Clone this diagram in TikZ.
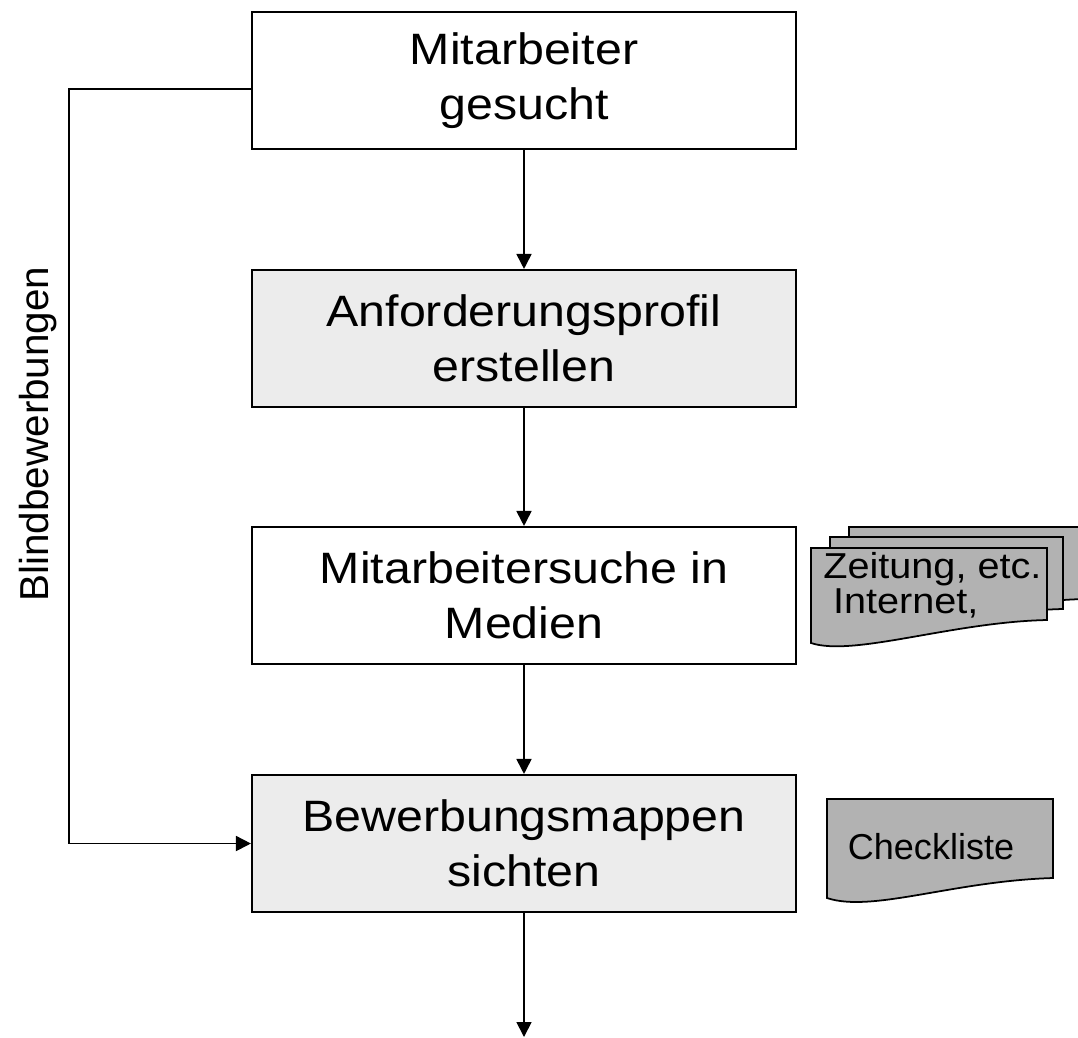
\documentclass[tikz,border=0pt]{standalone}
\usepackage{fontspec}
\setmainfont{Liberation Sans}
\newfontfamily\breit{Liberation Sans}[FakeStretch=1.1]
\usepackage{tikz}
\usetikzlibrary{arrows.meta}

\tikzset{
  schritt/.style={draw,line width=1.2pt,minimum width=10.88cm,minimum height=2.74cm,
    align=center,inner sep=0pt,font=\breit\fontsize{25}{31}\selectfont},
  grau/.style={fill=gray!15},
  pfeil/.style={line width=1pt,-{Triangle[length=3mm,width=3mm]}},
  blatt/.style={draw,line width=1pt,fill=gray!60},
  klein/.style={inner sep=0pt,font=\fontsize{20.5}{20}\selectfont}
}

\begin{document}
\begin{tikzpicture}
\useasboundingbox (0,0) rectangle (21.56,-20.74);
\clip (0,0) rectangle (21.56,-20.74);
\node[schritt] (b1) at (10.48,-1.61) {Mitarbeiter\\gesucht};
\node[schritt,grau] (b2) at (10.48,-6.77) {Anforderungsprofil\\erstellen};
\node[schritt] (b3) at (10.48,-11.91) {Mitarbeitersuche in\\Medien};
\node[schritt,grau] (b4) at (10.48,-16.87) {Bewerbungsmappen\\sichten};
\coordinate (ende) at (10.48,-20.74);
\draw[pfeil] (b1) -- (b2);
\draw[pfeil] (b2) -- (b3);
\draw[pfeil] (b3) -- (b4);
\draw[pfeil] (b4) -- (ende);
% Blindbewerbungen
\draw[pfeil] ([yshift=-1.7mm]b1.west) -- ++(-3.64,0) |- (b4.west);
\node[rotate=90,klein,font=\fontsize{23}{24}\selectfont] (blind) at (0.77,-8.68) {Blindbewerbungen};
% Dokumente
\draw[blatt] (16.98,-10.54) -- ++(4.72,0) -- ++(0,-1.44) .. controls +(-1.9,-0.04) and +(0.85,-0.28) .. (16.98,-12.44) -- cycle;
\draw[blatt] (16.60,-10.74) -- ++(4.66,0) -- ++(0,-1.44) .. controls +(-1.9,-0.04) and +(0.85,-0.28) .. (16.60,-12.64) -- cycle;
\draw[blatt] (16.22,-10.96) -- ++(4.72,0) -- ++(0,-1.44) .. controls +(-1.9,-0.04) and +(0.85,-0.28) .. (16.22,-12.86) -- cycle;
\node[klein,align=left,anchor=north west,font=\breit\fontsize{20.5}{20}\selectfont] (medien) at (16.46,-11.04) {Zeitung, etc.\\\hspace*{5.5pt}Internet,};
\draw[blatt] (16.54,-15.98) -- ++(4.52,0) -- ++(0,-1.58) .. controls +(-2,-0.06) and +(0.9,-0.3) .. (16.54,-17.96) -- cycle;
\node[klein] (check) at (18.62,-16.94) {Checkliste};
\end{tikzpicture}
\end{document}
